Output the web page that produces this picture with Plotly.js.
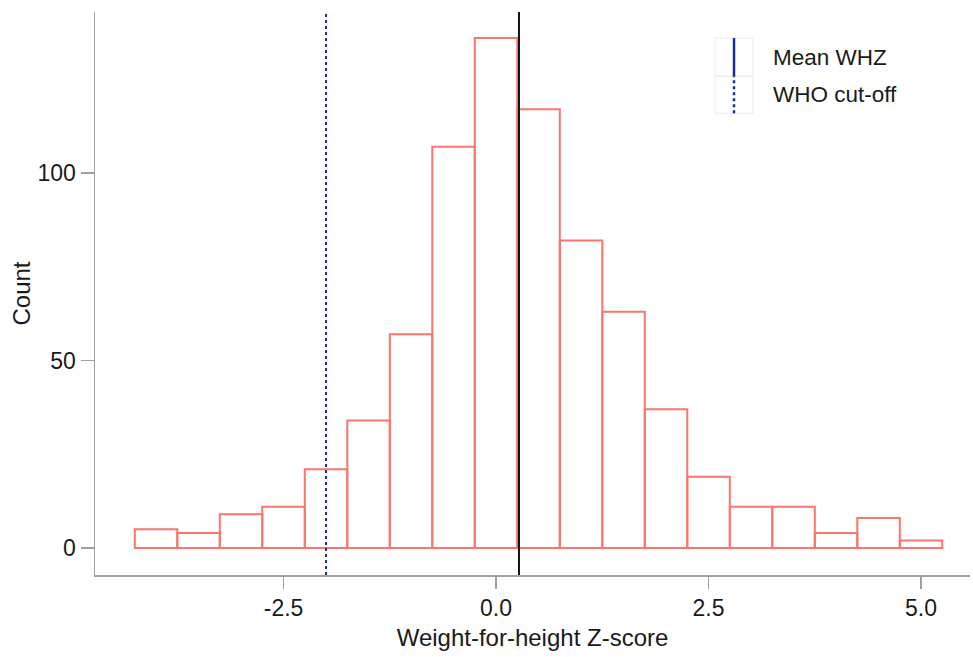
<!DOCTYPE html>
<html>
<head>
<meta charset="utf-8">
<script src="https://cdn.plot.ly/plotly-3.0.1.min.js"></script>
<style>html,body{margin:0;padding:0;background:#fff}#chart{width:973px;height:657px}</style>
</head>
<body>
<div id="chart"></div>
<script>
// Histogram bins (centers, width 0.5) and counts
var binCenters = [-4.0, -3.5, -3.0, -2.5, -2.0, -1.5, -1.0, -0.5, 0.0, 0.5, 1.0, 1.5, 2.0, 2.5, 3.0, 3.5, 4.0, 4.5, 5.0];
var counts = [5, 4, 9, 11, 21, 34, 57, 107, 136, 117, 82, 63, 37, 19, 11, 11, 4, 8, 2];
var binWidth = 0.5;
var meanWHZ = 0.27;
var whoCutoff = -2.0;
var legendLabels = ["Mean WHZ", "WHO cut-off"];
var xTicks = [-2.5, 0.0, 2.5, 5.0];
var yTicks = [0, 50, 100];

var fam = "Liberation Sans, Arial, sans-serif";
var tickFont = {family: fam, color: "#1a1a1a", size: 23};
var titleFont = {family: fam, color: "#1a1a1a", size: 24};

var bars = {
  type: "bar",
  x: binCenters,
  y: counts,
  width: binCenters.map(function(){return binWidth;}),
  marker: {color: "rgba(255,255,255,0)", line: {color: "#F8766D", width: 2}},
  hoverinfo: "x+y",
  showlegend: false
};

// legend key geometry in paper coords
var kx0 = 0.7086, kx1 = 0.752, kxm = 0.7303;
var ky0 = 0.9537, kym = 0.8859, ky1 = 0.8200;

var shapes = [
  {type: "line", xref: "x", yref: "paper", x0: meanWHZ, x1: meanWHZ, y0: 0, y1: 1,
   line: {color: "#111111", width: 2}},
  {type: "line", xref: "x", yref: "paper", x0: whoCutoff, x1: whoCutoff, y0: 0, y1: 1,
   line: {color: "#1f2aa8", width: 2, dash: "dot"}},
  {type: "rect", xref: "paper", yref: "paper", x0: kx0, x1: kx1, y0: kym, y1: ky0,
   line: {color: "#ececec", width: 1}, fillcolor: "rgba(0,0,0,0)"},
  {type: "rect", xref: "paper", yref: "paper", x0: kx0, x1: kx1, y0: ky1, y1: kym,
   line: {color: "#ececec", width: 1}, fillcolor: "rgba(0,0,0,0)"},
  {type: "line", xref: "paper", yref: "paper", x0: kxm, x1: kxm, y0: kym, y1: ky0,
   line: {color: "#1f2a99", width: 2.5}},
  {type: "line", xref: "paper", yref: "paper", x0: kxm, x1: kxm, y0: ky1, y1: kym,
   line: {color: "#1f2a99", width: 2.5, dash: "dot"}}
];

var annotations = [
  {xref: "paper", yref: "paper", x: 0.7726, y: (kym + ky0) / 2, text: legendLabels[0],
   showarrow: false, xanchor: "left", yanchor: "middle", font: {family: fam, size: 22.5, color: "#1a1a1a"}},
  {xref: "paper", yref: "paper", x: 0.7726, y: (ky1 + kym) / 2, text: legendLabels[1],
   showarrow: false, xanchor: "left", yanchor: "middle", font: {family: fam, size: 22.5, color: "#1a1a1a"}}
];

var layout = {
  width: 973, height: 657,
  margin: {l: 95, r: 3, t: 12, b: 82},
  paper_bgcolor: "#ffffff", plot_bgcolor: "#ffffff",
  font: tickFont,
  showlegend: false,
  xaxis: {
    range: [-4.718, 5.576],
    tickvals: xTicks,
    ticktext: xTicks.map(function(v){return v.toFixed(1);}),
    showgrid: false, zeroline: false,
    showline: true, linecolor: "#a0a0a0", linewidth: 1.5,
    ticks: "outside", ticklen: 12, tickcolor: "#a0a0a0", tickwidth: 1.5,
    tickfont: tickFont,
    title: {text: "Weight-for-height Z-score", font: titleFont, standoff: 9}
  },
  yaxis: {
    range: [-7.2, 142.93],
    tickvals: yTicks,
    showgrid: false, zeroline: false,
    showline: true, linecolor: "#a0a0a0", linewidth: 1.5,
    ticks: "outside", ticklen: 13, tickcolor: "#a0a0a0", tickwidth: 1.5,
    tickfont: tickFont,
    title: {text: "Count", font: titleFont, standoff: 0}
  },
  shapes: shapes,
  annotations: annotations
};

Plotly.newPlot("chart", [bars], layout, {displayModeBar: false, staticPlot: true});
</script>
</body>
</html>
